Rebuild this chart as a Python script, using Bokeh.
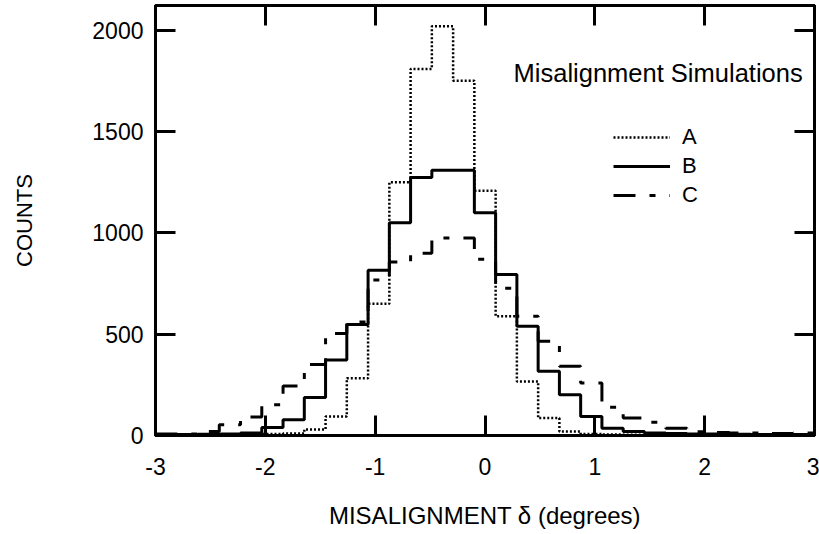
import numpy as np
from bokeh.plotting import figure
from bokeh.models import Range1d, LinearAxis, FixedTicker, Legend, LegendItem, Label
from bokeh.embed import file_html
from bokeh.resources import INLINE

# ---- data ----
x_start, x_end = -3.0, 3.0
n_bins = 31
bin_edges = np.linspace(x_start, x_end, n_bins + 1)

counts_a = [3, 3, 3, 5, 5, 8, 10, 30, 94, 283, 650, 1250, 1810, 2020, 1752,
            1208, 589, 267, 86, 20, 8, 5, 4, 3, 3, 3, 3, 3, 3, 3, 3]
counts_b = [5, 5, 6, 8, 12, 40, 78, 188, 373, 548, 816, 1051, 1274, 1310, 1310,
            1100, 795, 540, 317, 201, 94, 36, 20, 12, 10, 8, 8, 6, 5, 5, 5]
counts_c = [7, 8, 20, 53, 91, 152, 244, 350, 503, 560, 768, 857, 900, 975, 975,
            870, 727, 589, 465, 342, 259, 139, 86, 66, 36, 18, 15, 12, 12, 10, 12]

series_names = ["A", "B", "C"]
x_ticks = [-3, -2, -1, 0, 1, 2, 3]
x_tick_labels = ["-3", "-2", "-1", "0", "1", "2", "3"]
y_ticks = [0, 500, 1000, 1500, 2000]
y_tick_labels = ["0", "500", "1000", "1500", "2000"]
legend_title = "Misalignment Simulations"
x_label = "MISALIGNMENT \u03b4 (degrees)"
y_label = "COUNTS"

FONT = "Liberation Sans"

p = figure(width=819, height=534,
           x_range=Range1d(x_start, x_end), y_range=Range1d(0, 2123),
           output_backend="svg", toolbar_location=None,
           min_border_left=155, min_border_right=5,
           min_border_top=5, min_border_bottom=99,
           background_fill_color="white", border_fill_color="white")
p.grid.visible = False
p.outline_line_color = "black"
p.outline_line_width = 3

def style_axis(ax):
    ax.major_tick_in = 20
    ax.major_tick_out = 0
    ax.minor_tick_in = 0
    ax.minor_tick_out = 0
    ax.major_tick_line_width = 3
    ax.major_tick_line_color = "black"
    ax.axis_line_width = 3
    ax.axis_line_color = "black"
    ax.major_label_text_font = FONT
    ax.major_label_text_color = "black"
    ax.major_label_text_font_size = "23px"
    ax.axis_label_text_font = FONT
    ax.axis_label_text_font_style = "normal"
    ax.axis_label_text_color = "black"

xb = p.xaxis[0]
yl = p.yaxis[0]
xb.ticker = FixedTicker(ticks=x_ticks)
yl.ticker = FixedTicker(ticks=y_ticks)
style_axis(xb)
style_axis(yl)
xb.major_label_overrides = dict(zip(x_ticks, x_tick_labels))
yl.major_label_overrides = dict(zip(y_ticks, y_tick_labels))
xb.major_label_standoff = 22
yl.major_label_standoff = 12
xb.axis_label = x_label
yl.axis_label = y_label
xb.axis_label_text_font_size = "24px"
yl.axis_label_text_font_size = "22px"
xb.axis_label_standoff = 24
yl.axis_label_standoff = 52

xt = LinearAxis(ticker=FixedTicker(ticks=x_ticks))
style_axis(xt)
xt.major_label_overrides = {t: "" for t in x_ticks}
xt.major_label_standoff = 0
p.add_layout(xt, "above")
yr = LinearAxis(ticker=FixedTicker(ticks=y_ticks))
style_axis(yr)
yr.major_label_overrides = {t: "" for t in y_ticks}
yr.major_label_standoff = 0
p.add_layout(yr, "right")

edges = list(bin_edges)
r_c = p.step(x=edges, y=counts_c + [counts_c[-1]], mode="after",
             line_color="black", line_width=3, line_dash="22 14 6 14")
r_b = p.step(x=edges, y=counts_b + [counts_b[-1]], mode="after",
             line_color="black", line_width=3)
r_a = p.step(x=edges, y=counts_a + [counts_a[-1]], mode="after",
             line_color="black", line_width=2.5, line_dash="2 2")

legend = Legend(items=[LegendItem(label=series_names[0], renderers=[r_a]),
                       LegendItem(label=series_names[1], renderers=[r_b]),
                       LegendItem(label=series_names[2], renderers=[r_c])],
                location=(458, 227), padding=0, margin=0, spacing=3,
                glyph_width=57, glyph_height=24, label_height=24,
                label_standoff=12, label_text_font=FONT,
                label_text_font_size="22px", label_text_color="black",
                border_line_color=None, background_fill_alpha=0)
p.add_layout(legend)

p.add_layout(Label(x=0.26, y=1788, text=legend_title, text_font=FONT,
                   text_font_size="25.5px", text_color="black",
                   text_baseline="middle", text_align="left"))

open("out.html", "w").write(file_html(p, INLINE))
